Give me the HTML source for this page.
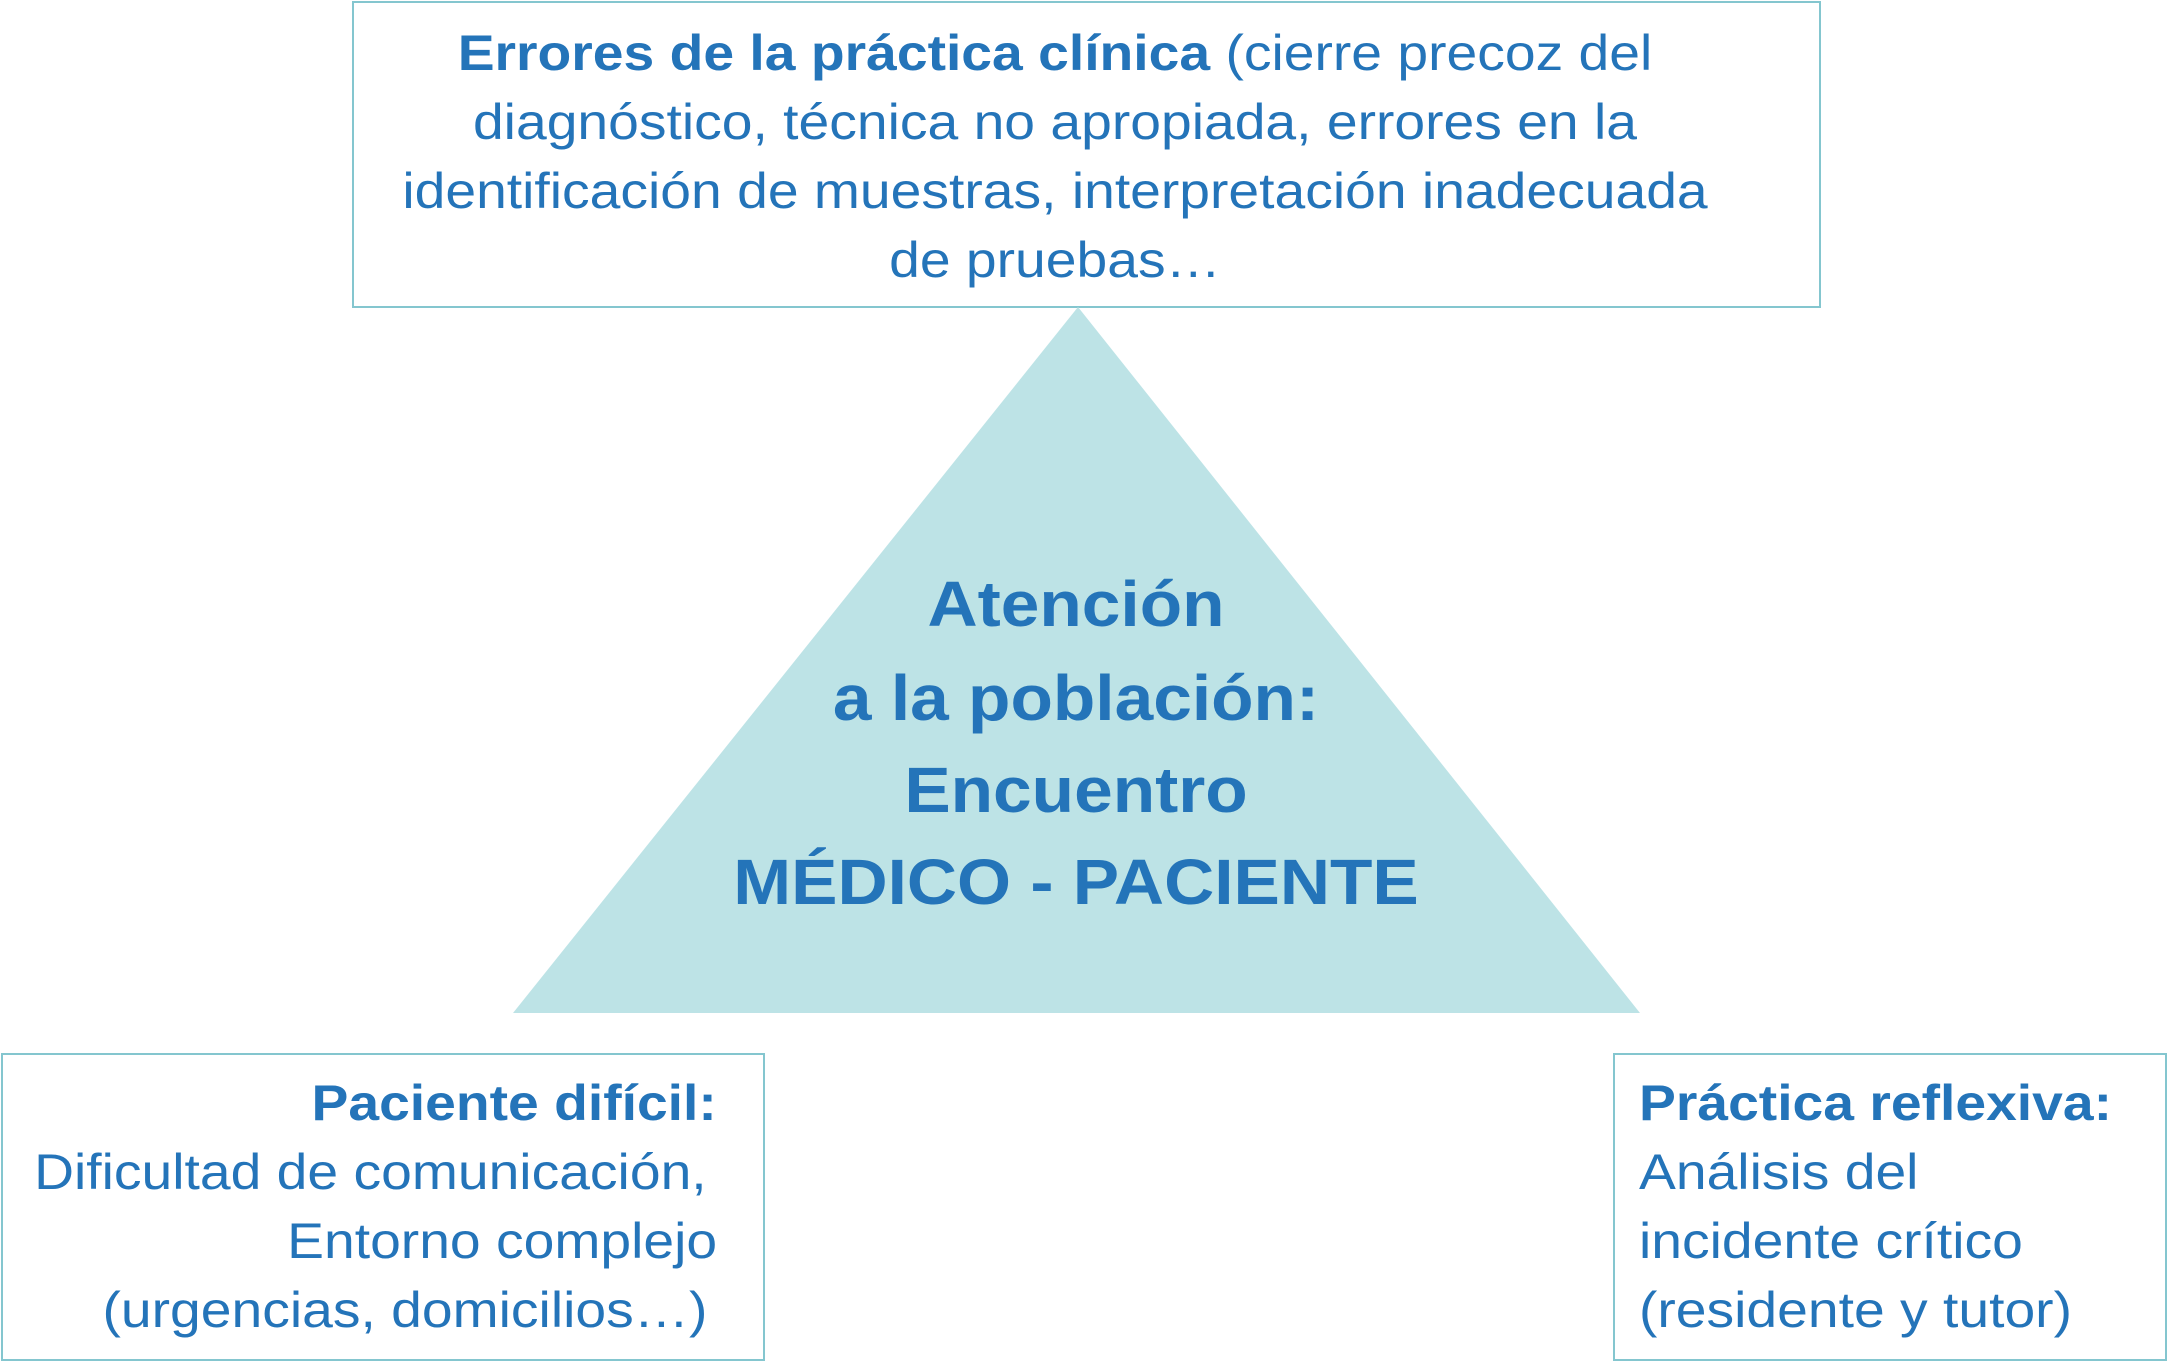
<!DOCTYPE html>
<html><head><meta charset="utf-8"><style>
body{margin:0;width:2167px;height:1361px;background:#fff;position:relative;overflow:hidden;font-family:"Liberation Sans",Arial,sans-serif;color:#2474b9}
.box{position:absolute;border:2.5px solid #84c6cf;box-sizing:border-box}
.l{position:absolute;white-space:nowrap;font-size:50px;line-height:69px;transform:scaleX(1.105)}
.c{text-align:center;transform-origin:1055px 0}
.r{text-align:right;transform-origin:100% 0}
.lf{transform-origin:0 0}
.t{position:absolute;left:0;width:2152px;text-align:center;font-weight:bold;font-size:64px;line-height:92px;white-space:nowrap;transform:scaleX(1.085);transform-origin:1076px 0}
</style></head><body>
<div class="box" style="left:352px;top:1px;width:1469px;height:307px"></div>
<svg style="position:absolute;left:0;top:0" width="2167" height="1361"><polygon points="1078,307 513,1013 1640,1013" fill="#bde3e6"/></svg>
<div class="box" style="left:1px;top:1053px;width:764px;height:308px"></div>
<div class="box" style="left:1613px;top:1053px;width:554px;height:308px"></div>

<div class="l c" style="left:0;width:2110px;top:19px"><b>Errores de la práctica clínica</b> (cierre precoz del</div>
<div class="l c" style="left:0;width:2110px;top:88px">diagnóstico, técnica no apropiada, errores en la</div>
<div class="l c" style="left:0;width:2110px;top:157px">identificación de muestras, interpretación inadecuada</div>
<div class="l c" style="left:0;width:2110px;top:226px">de pruebas…</div>

<div class="t" style="top:558px">Atención</div>
<div class="t" style="top:652px">a la población:</div>
<div class="t" style="top:744px">Encuentro</div>
<div class="t" style="top:836px">MÉDICO - PACIENTE</div>

<div class="l r" style="right:1450px;top:1069px"><b>Paciente difícil:</b></div>
<div class="l r" style="right:1460px;top:1138px">Dificultad de comunicación,</div>
<div class="l r" style="right:1450px;top:1207px">Entorno complejo</div>
<div class="l r" style="right:1460px;top:1276px">(urgencias, domicilios…)</div>

<div class="l lf" style="left:1639px;top:1069px"><b>Práctica reflexiva:</b></div>
<div class="l lf" style="left:1639px;top:1138px">Análisis del</div>
<div class="l lf" style="left:1639px;top:1207px">incidente crítico</div>
<div class="l lf" style="left:1639px;top:1276px">(residente y tutor)</div>
</body></html>
